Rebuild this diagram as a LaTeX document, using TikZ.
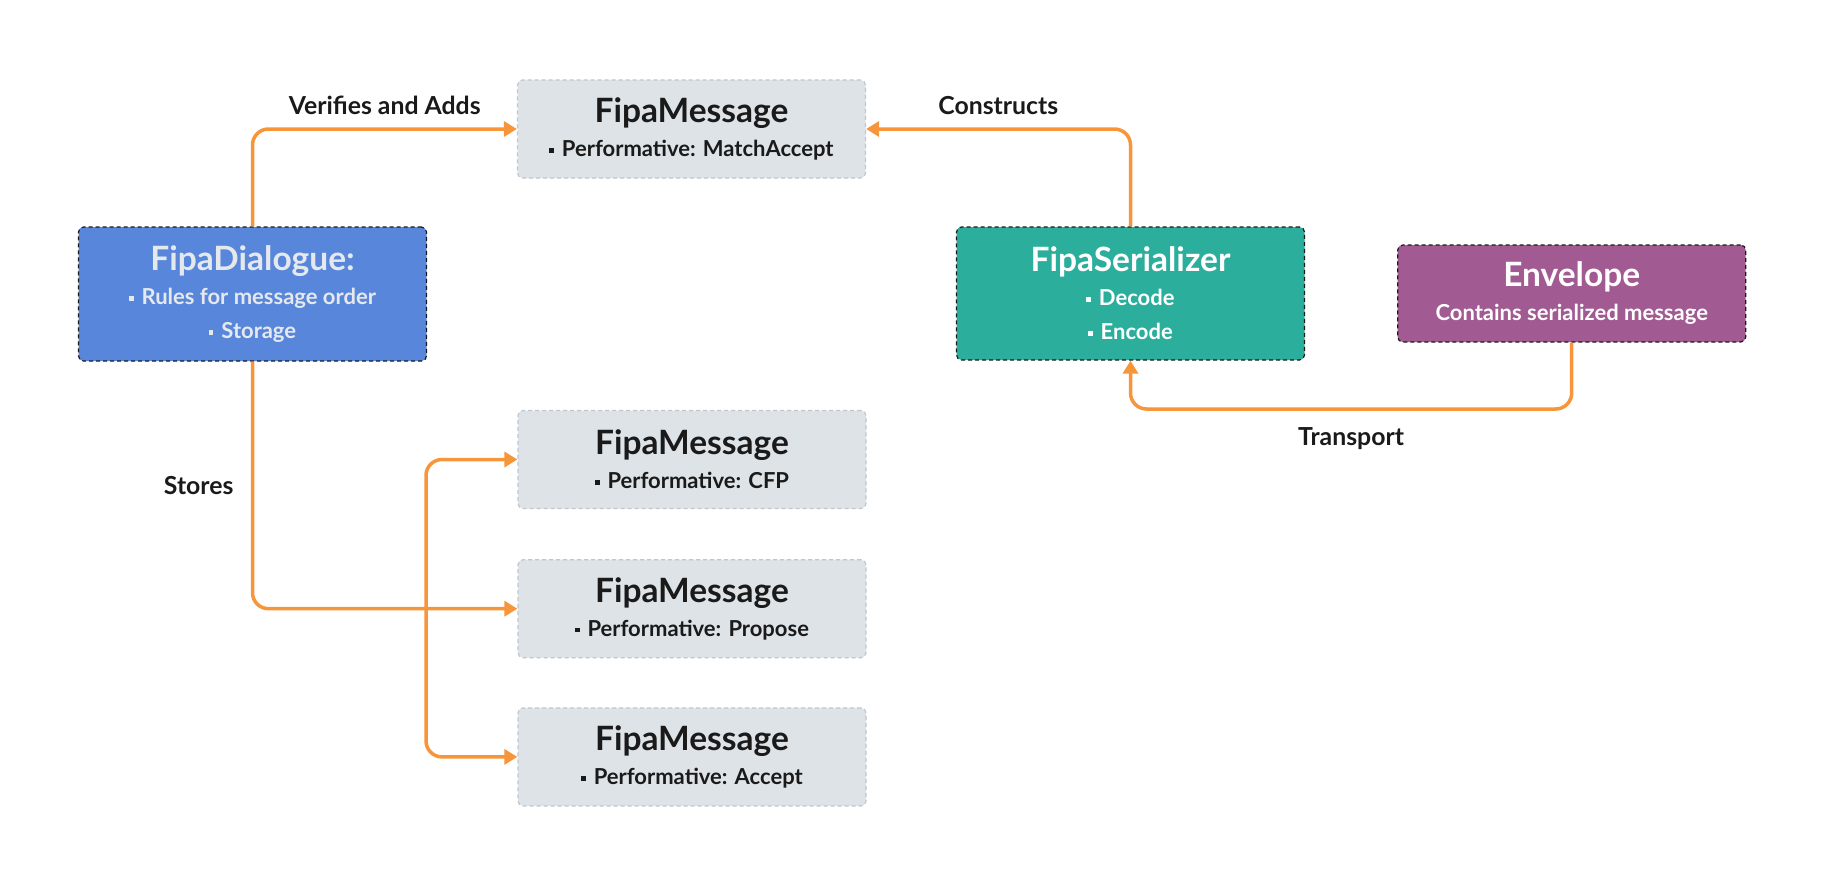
\documentclass[tikz,border=0pt]{standalone}
\usepackage{fontspec}
\setmainfont{Lato}
\usetikzlibrary{arrows.meta,positioning}
\definecolor{flowcol}{RGB}{247,149,59}
\definecolor{dlgcol}{RGB}{88,134,218}
\definecolor{sercol}{RGB}{43,174,156}
\definecolor{envcol}{RGB}{162,90,147}
\definecolor{msgcol}{RGB}{221,227,231}
\definecolor{msgline}{RGB}{192,198,204}
\definecolor{inkcol}{RGB}{26,26,26}
\definecolor{palecol}{RGB}{229,233,238}
\newcommand{\bul}{\rule[3.9pt]{4.5pt}{4.5pt}\hspace{8pt}}
\newcommand{\ttl}[1]{{\fontsize{33.5}{34}\selectfont #1}}

\begin{document}
\begin{tikzpicture}[x=1pt,y=-1pt,
  font=\bfseries\fontsize{22}{34}\selectfont,
  box/.style={rounded corners=5pt,draw,dash pattern=on 4pt off 3pt,line width=1.2pt,
    align=center,minimum width=348pt,inner sep=0pt},
  msg/.style={box,fill=msgcol,draw=msgline,text=inkcol,minimum height=98pt},
  dlg/.style={box,fill=dlgcol,draw=inkcol,text=palecol,minimum height=134pt},
  ser/.style={box,fill=sercol,draw=inkcol,text=white,minimum height=133pt},
  env/.style={box,fill=envcol,draw=inkcol,text=white,minimum height=97pt},
  flow/.style={draw=flowcol,line width=3.5pt,rounded corners=16pt,
    -{Triangle[length=13pt,width=15pt]}},
  lbl/.style={font=\bfseries\fontsize{24.8}{28}\selectfont,text=inkcol}]
\useasboundingbox (0,0) rectangle (1823,883);
% messages
\node[msg] (match) at (691.5,129) {\ttl{FipaMessage}\\\bul Performative: MatchAccept};
\node[msg] (cfp) at (692,459.5) {\ttl{FipaMessage}\\\bul Performative: CFP};
\node[msg,below=50pt of cfp] (prop) {\ttl{FipaMessage}\\\bul Performative: Propose};
\node[msg,below=49pt of prop] (acc) {\ttl{FipaMessage}\\\bul Performative: Accept};
% components
\node[dlg] (dialogue) at (252.5,294) {\ttl{FipaDialogue:}\\\bul Rules for message order\\\bul Storage};
\node[ser] (serial) at (1130.5,293.5) {\ttl{FipaSerializer}\\\bul Decode\\\bul Encode};
\node[env,right=92pt of serial] (envelope) {\ttl{Envelope}\\Contains serialized message};
% flows
\coordinate (split) at (426,607);
\coordinate (tbend) at (1130.5,409);
\draw[flow] (dialogue.north) |- node[lbl,pos=0.75,above=9pt]{Verifies and Adds} (match.west);
\draw[flow] (serial.north) |- node[lbl,pos=0.75,above=9pt]{Constructs} (match.east);
\draw[flow] (dialogue.south) |- node[lbl,pos=0.25,left=14pt]{Stores} (prop.west);
\draw[flow] (split) |- (cfp.west);
\draw[flow] (split) |- (acc.west);
\draw[flow] (envelope.south) |- node[lbl,pos=0.75,below=13pt]{Transport} (tbend) -- (serial.south);
\end{tikzpicture}
\end{document}
